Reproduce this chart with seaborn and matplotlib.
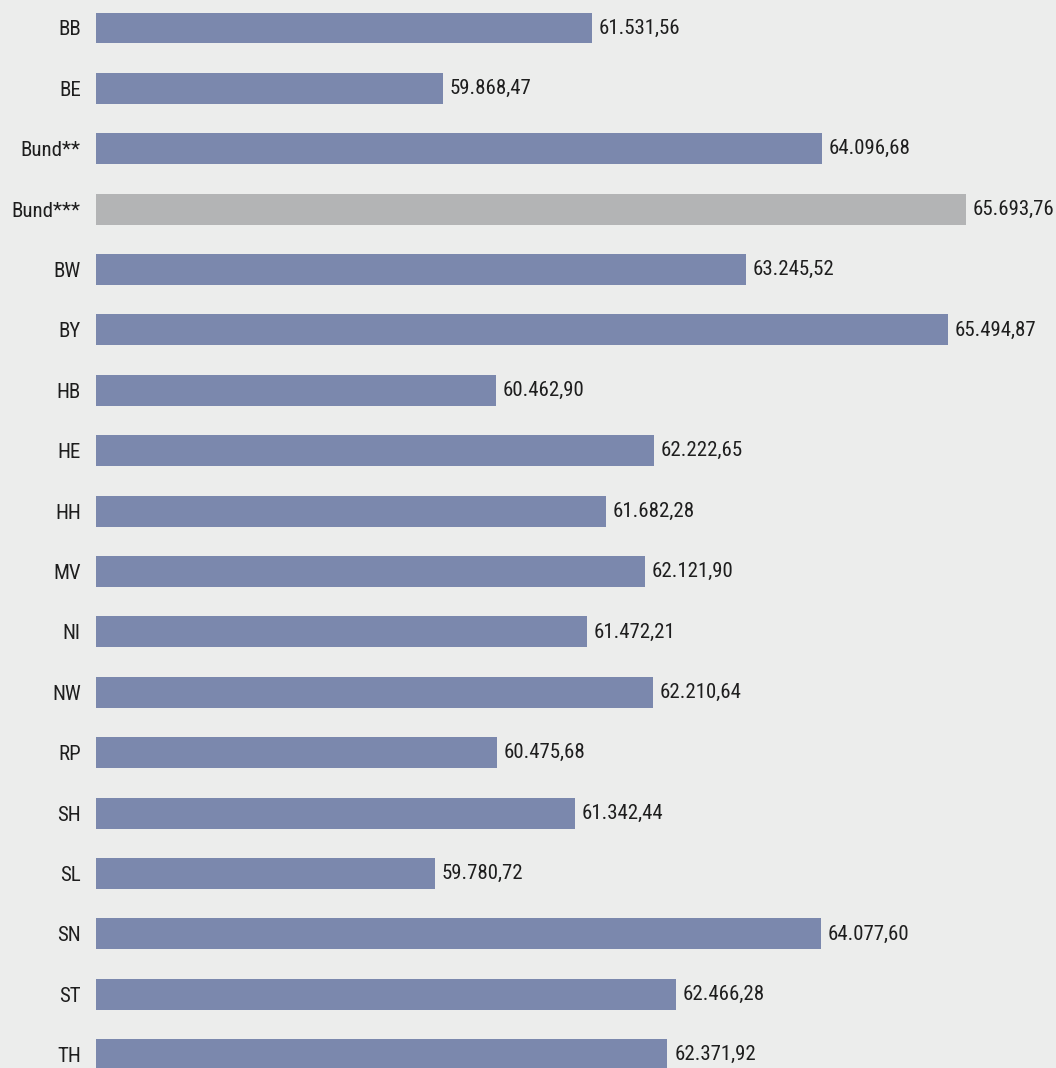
import matplotlib
matplotlib.use("Agg")
import matplotlib.pyplot as plt
import matplotlib.font_manager as fm
import seaborn as sns
import pandas as pd

# Werte (Euro), Reihenfolge wie im Original
laender = ["BB", "BE", "Bund**", "Bund***", "BW", "BY", "HB", "HE", "HH",
           "MV", "NI", "NW", "RP", "SH", "SL", "SN", "ST", "TH"]
werte = [61531.56, 59868.47, 64096.68, 65693.76, 63245.52, 65494.87, 60462.90,
         62222.65, 61682.28, 62121.90, 61472.21, 62210.64, 60475.68, 61342.44,
         59780.72, 64077.60, 62466.28, 62371.92]
gruppe = ["Bund***" if l == "Bund***" else "Land" for l in laender]

BG = "#ECEDEC"
BLAU = "#7B88AD"
GRAU = "#B3B4B5"

sns.set_theme(style="white")
names = {f.name for f in fm.fontManager.ttflist}
family = "DejaVu Sans"
for cand in ["Liberation Sans Narrow", "Roboto Condensed", "Open Sans Condensed", "Lato"]:
    if cand in names:
        family = cand
        break
plt.rcParams["font.family"] = [family, "DejaVu Sans"]

df = pd.DataFrame({"land": laender, "wert": werte, "gruppe": gruppe})


def de_format(v):
    s = f"{v:,.2f}"
    return s.replace(",", "X").replace(".", ",").replace("X", ".")


fig = plt.figure(figsize=(10.56, 10.68), dpi=100, facecolor=BG)
ax = fig.add_axes([96 / 1056, 0, 960 / 1056, 1])
ax.set_facecolor(BG)

sns.barplot(data=df, y="land", x="wert", hue="gruppe",
            palette={"Land": BLAU, "Bund***": GRAU}, orient="h",
            width=0.513, dodge=False, legend=False, ax=ax, saturation=1,
            linewidth=0)

ax.set_xlim(56007, 66700)
ax.set_ylim(17.22, -0.4636)

for i, v in enumerate(werte):
    ax.text(v + 75, i, de_format(v), va="center", ha="left",
            fontsize=15, color="#1e1e1e")

ax.set_xlabel("")
ax.set_ylabel("")
ax.set_xticks([])
ax.tick_params(axis="y", length=0, pad=11, labelsize=15, labelcolor="#1e1e1e")
for sp in ax.spines.values():
    sp.set_visible(False)

fig.savefig("out.png", dpi=100, facecolor=BG)
